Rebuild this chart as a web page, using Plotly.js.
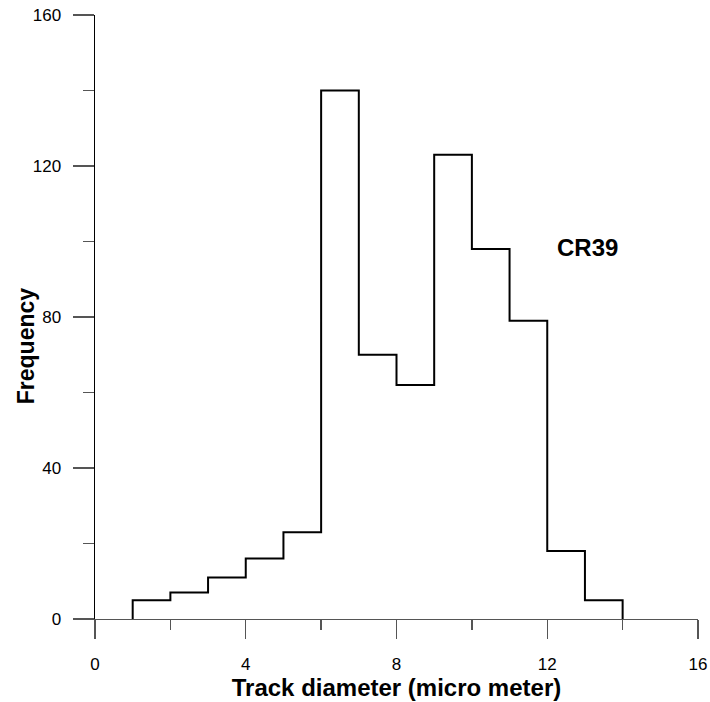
<!DOCTYPE html>
<html>
<head>
<meta charset="utf-8">
<script src="https://cdn.plot.ly/plotly-3.0.1.min.js"></script>
<style>html,body{margin:0;padding:0;background:#fff;}#chart{width:710px;height:702px;}</style>
</head>
<body>
<div id="chart"></div>
<script>
// Histogram bins (track diameter, micro meter) and frequencies
var binEdges = [1, 2, 3, 4, 5, 6, 7, 8, 9, 10, 11, 12, 13, 14];
var frequencies = [5, 7, 11, 16, 23, 140, 70, 62, 123, 98, 79, 18, 5];
var xTickVals = [0, 4, 8, 12, 16];
var yTickVals = [0, 40, 80, 120, 160];
var labelText = "CR39";
var xTitle = "Track diameter (micro meter)";
var yTitle = "Frequency";

// Build step outline from bin edges and values
var sx = [binEdges[0]];
var sy = [0];
for (var i = 0; i < frequencies.length; i++) {
  sx.push(binEdges[i]);
  sy.push(frequencies[i]);
}
sx.push(binEdges[binEdges.length - 1]);
sy.push(frequencies[frequencies.length - 1]);
sx.push(binEdges[binEdges.length - 1]);
sy.push(0);

var trace = {
  x: sx, y: sy, type: 'scatter', mode: 'lines',
  line: {shape: 'hv', color: '#000', width: 2},
  hoverinfo: 'skip', showlegend: false
};

var fontFam = 'Liberation Sans, Arial, sans-serif';
var layout = {
  width: 710, height: 702,
  margin: {l: 95, r: 12, t: 15, b: 83},
  paper_bgcolor: '#fff', plot_bgcolor: '#fff',
  font: {family: fontFam, color: '#000', size: 17},
  xaxis: {
    range: [0, 16], tickmode: 'array', tickvals: xTickVals,
    ticks: 'outside', ticklen: 19, tickwidth: 1.3, tickcolor: '#555',
    ticklabelstandoff: 10,
    showline: true, linecolor: '#555', linewidth: 1.3,
    showgrid: false, zeroline: false,
    minor: {dtick: 2, tick0: 0, ticks: 'outside', ticklen: 10, tickwidth: 1.3, tickcolor: '#555', showgrid: false},
    tickfont: {size: 17, family: fontFam},
    title: {text: '<b>' + xTitle + '</b>', font: {size: 24, family: fontFam}, standoff: 4}
  },
  yaxis: {
    range: [0, 160], tickmode: 'array', tickvals: yTickVals,
    ticks: 'outside', ticklen: 21, tickwidth: 1.3, tickcolor: '#555',
    ticklabelstandoff: 8,
    showline: true, linecolor: '#000', linewidth: 1.5,
    showgrid: false, zeroline: false,
    minor: {dtick: 20, tick0: 0, ticks: 'outside', ticklen: 11, tickwidth: 1.3, tickcolor: '#555', showgrid: false},
    tickfont: {size: 17, family: fontFam}
  },
  annotations: [{
    x: 13.06, y: 98.3, xref: 'x', yref: 'y', text: '<b>' + labelText + '</b>',
    showarrow: false, font: {size: 24, family: fontFam, color: '#000'}
  }, {
    x: -0.114, y: 0.452, xref: 'paper', yref: 'paper', text: '<b>' + yTitle + '</b>',
    textangle: -90, showarrow: false, xanchor: 'center', yanchor: 'middle',
    font: {size: 23, family: fontFam, color: '#000'}
  }]
};

Plotly.newPlot('chart', [trace], layout, {displayModeBar: false, staticPlot: true});
</script>
</body>
</html>
